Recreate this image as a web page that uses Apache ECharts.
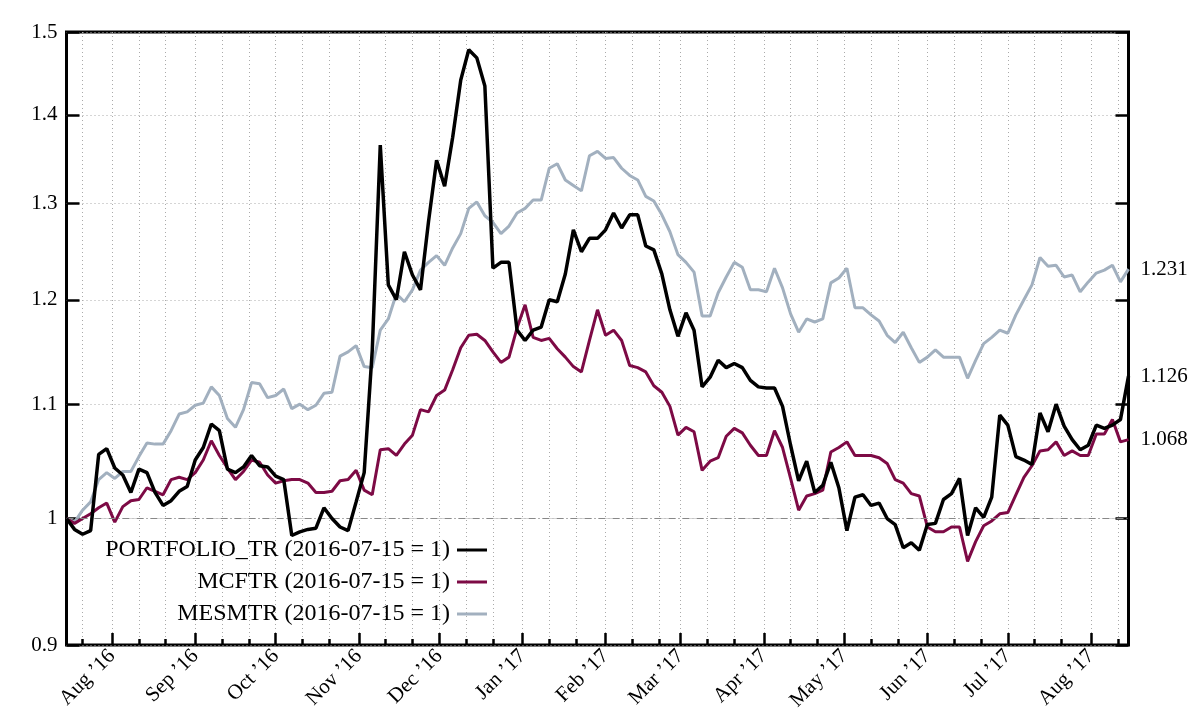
<!DOCTYPE html>
<html>
<head>
<meta charset="utf-8">
<script src="https://cdn.jsdelivr.net/npm/echarts@6/dist/echarts.min.js"></script>
<style>html,body{margin:0;padding:0;background:#fff;}#c{width:1200px;height:720px;}</style>
</head>
<body>
<div id="c"></div>
<script>
// sampled every 3 calendar days from 2016-07-15 to 2017-08-15
const startDate = '2016-07-15';
const stepDays = 3;
const seriesNames = ['PORTFOLIO_TR (2016-07-15 = 1)', 'MCFTR (2016-07-15 = 1)', 'MESMTR (2016-07-15 = 1)'];
const portfolio = [
 1.000,0.991,0.987,0.990,1.055,1.060,1.043,1.037,1.022,1.042,
 1.039,1.022,1.011,1.015,1.023,1.027,1.050,1.061,1.082,1.076,
 1.042,1.039,1.044,1.054,1.045,1.044,1.036,1.033,0.986,0.989,
 0.991,0.992,1.009,1.000,0.993,0.990,1.014,1.039,1.150,1.365,
 1.215,1.200,1.249,1.225,1.210,1.281,1.348,1.319,1.374,1.441,
 1.478,1.468,1.434,1.232,1.238,1.238,1.170,1.160,1.170,1.173,
 1.200,1.198,1.226,1.272,1.249,1.263,1.263,1.272,1.290,1.274,
 1.288,1.288,1.255,1.251,1.226,1.190,1.164,1.187,1.170,1.116,
 1.125,1.141,1.134,1.138,1.134,1.122,1.116,1.115,1.115,1.098,
 1.063,1.032,1.049,1.022,1.028,1.048,1.026,0.990,1.018,1.020,
 1.011,1.013,1.000,0.995,0.976,0.980,0.974,0.995,0.996,1.016,
 1.021,1.034,0.986,1.009,1.001,1.018,1.090,1.081,1.053,1.050,
 1.046,1.092,1.075,1.100,1.080,1.068,1.059,1.063,1.081,1.078,
 1.081,1.086,1.126
];
const mcftr = [
 1.000,0.996,1.000,1.004,1.009,1.013,0.997,1.010,1.015,1.016,
 1.026,1.023,1.020,1.033,1.035,1.033,1.039,1.050,1.067,1.054,
 1.043,1.033,1.040,1.050,1.048,1.037,1.030,1.032,1.033,1.033,
 1.030,1.022,1.022,1.023,1.032,1.033,1.041,1.024,1.020,1.059,
 1.060,1.054,1.064,1.072,1.095,1.093,1.108,1.113,1.132,1.153,
 1.165,1.166,1.160,1.149,1.139,1.144,1.172,1.195,1.163,1.160,
 1.162,1.152,1.144,1.135,1.130,1.160,1.190,1.165,1.170,1.160,
 1.136,1.134,1.130,1.117,1.111,1.098,1.072,1.079,1.075,1.041,
 1.049,1.052,1.071,1.078,1.074,1.063,1.054,1.054,1.076,1.061,
 1.034,1.007,1.019,1.021,1.024,1.057,1.061,1.066,1.054,1.054,
 1.054,1.052,1.047,1.033,1.030,1.021,1.019,0.993,0.989,0.989,
 0.993,0.993,0.965,0.981,0.994,0.998,1.004,1.005,1.020,1.035,
 1.045,1.058,1.059,1.066,1.054,1.058,1.054,1.054,1.073,1.073,
 1.086,1.066,1.068
];
const mesmtr = [
 1.000,0.997,1.007,1.014,1.033,1.039,1.034,1.040,1.040,1.053,
 1.065,1.064,1.064,1.076,1.091,1.093,1.099,1.101,1.116,1.108,
 1.087,1.079,1.095,1.120,1.119,1.106,1.108,1.114,1.096,1.100,
 1.095,1.099,1.110,1.111,1.145,1.149,1.155,1.135,1.134,1.170,
 1.181,1.206,1.198,1.210,1.230,1.238,1.245,1.235,1.253,1.268,
 1.295,1.302,1.287,1.280,1.268,1.276,1.290,1.295,1.304,1.304,
 1.339,1.344,1.326,1.320,1.314,1.353,1.358,1.350,1.351,1.339,
 1.331,1.326,1.308,1.303,1.288,1.270,1.246,1.238,1.228,1.184,
 1.184,1.207,1.223,1.238,1.233,1.210,1.210,1.208,1.232,1.212,
 1.186,1.168,1.181,1.178,1.181,1.217,1.222,1.232,1.192,1.192,
 1.185,1.179,1.165,1.158,1.168,1.153,1.139,1.144,1.151,1.144,
 1.144,1.144,1.124,1.141,1.157,1.163,1.170,1.167,1.185,1.200,
 1.215,1.243,1.234,1.235,1.223,1.225,1.208,1.218,1.227,1.230,
 1.235,1.218,1.231
];
const yTickValues = [0.9, 1, 1.1, 1.2, 1.3, 1.4, 1.5];
const endLabelValues = [1.068, 1.126, 1.231];
const monthNames = ['Jan','Feb','Mar','Apr','May','Jun','Jul','Aug','Sep','Oct','Nov','Dec'];

const DAY = 864e5;
const t0 = Date.parse(startDate + 'T00:00:00Z');
const dates = portfolio.map((_, i) => t0 + i * stepDays * DAY);
const tEnd = dates[dates.length - 1];

// axis ticks: 1st, 11th, 21st of each month; labels at month starts
const minorTicks = [], monthTicks = [];
for (let y = 2016; y <= 2017; y++) {
  for (let m = 0; m < 12; m++) {
    [1, 11, 21].forEach(d => {
      const t = Date.UTC(y, m, d);
      if (t > t0 && t < tEnd) { minorTicks.push(t); if (d === 1) monthTicks.push(t); }
    });
  }
}
const pair = arr => arr.map((v, i) => [dates[i], v]);
const FONT = '"Liberation Serif", "DejaVu Serif", serif';

const chart = echarts.init(document.getElementById('c'), null, {renderer: 'canvas'});
const legendBase = (name, top) => ({
  data: [name], right: 713, top: top, orient: 'horizontal', align: 'right',
  itemWidth: 30, itemHeight: 3, icon: 'rect', padding: 0, selectedMode: false,
  textStyle: {fontFamily: FONT, fontSize: 24, color: '#000', padding: [0, 2, 0, 0]}
});
chart.setOption({
  animation: false,
  backgroundColor: '#fff',
  grid: {left: 66.5, right: 71.5, top: 32, bottom: 75, show: true, borderColor: '#000', borderWidth: 3, containLabel: false},
  legend: [legendBase(seriesNames[0], 538), legendBase(seriesNames[1], 570), legendBase(seriesNames[2], 602)],
  xAxis: [
    {
      type: 'value', min: t0, max: tEnd, position: 'bottom',
      axisLine: {show: false},
      axisTick: {show: true, inside: true, length: 12, lineStyle: {color: '#000', width: 2.5}, customValues: monthTicks},
      axisLabel: {show: true, customValues: monthTicks, rotate: 45, margin: 8, fontFamily: FONT, fontSize: 21, color: '#000',
        formatter: v => { const d = new Date(v); return monthNames[d.getUTCMonth()] + ' \u2019' + String(d.getUTCFullYear()).slice(2); }},
      splitLine: {show: false}
    },
    {
      type: 'value', min: t0, max: tEnd, position: 'bottom',
      axisLine: {show: false},
      axisTick: {show: true, inside: true, length: 6, lineStyle: {color: '#000', width: 2.5}, customValues: minorTicks},
      axisLabel: {show: false},
      splitLine: {show: true, lineStyle: {color: '#aaa', type: [1, 3], width: 1}}
    }
  ],
  yAxis: [
    {
      type: 'log', min: 0.9, max: 1.5, position: 'left',
      axisLine: {show: false},
      axisTick: {show: true, inside: true, length: 13, lineStyle: {color: '#000', width: 2.5}, customValues: yTickValues},
      axisLabel: {customValues: yTickValues, margin: 9, fontFamily: FONT, fontSize: 21, color: '#000',
        formatter: v => (Math.abs(v - 1) < 1e-9 ? '1' : (+v).toFixed(1))},
      splitLine: {show: true, lineStyle: {color: '#aaa', type: [1, 3], width: 1}}
    },
    {
      type: 'log', min: 0.9, max: 1.5, position: 'right',
      axisLine: {show: false},
      axisTick: {show: true, inside: true, length: 13, lineStyle: {color: '#000', width: 2.5}, customValues: yTickValues},
      axisLabel: {customValues: endLabelValues, margin: 12, fontFamily: FONT, fontSize: 21, color: '#000',
        formatter: v => (+v).toFixed(3)},
      splitLine: {show: false}
    }
  ],
  series: [
    {name: seriesNames[2], type: 'line', data: pair(mesmtr), symbol: 'none', lineStyle: {color: '#a2b0bf', width: 3}, itemStyle: {color: '#a2b0bf'}, z: 3,
     markLine: {silent: true, symbol: 'none', label: {show: false}, lineStyle: {color: '#888', type: [7, 3, 1, 3], width: 1}, data: [{yAxis: 1}]}},
    {name: seriesNames[1], type: 'line', data: pair(mcftr), symbol: 'none', lineStyle: {color: '#7d0a45', width: 3}, itemStyle: {color: '#7d0a45'}, z: 4},
    {name: seriesNames[0], type: 'line', data: pair(portfolio), symbol: 'none', lineStyle: {color: '#000', width: 3.5}, itemStyle: {color: '#000'}, z: 5}
  ]
});
</script>
</body>
</html>
